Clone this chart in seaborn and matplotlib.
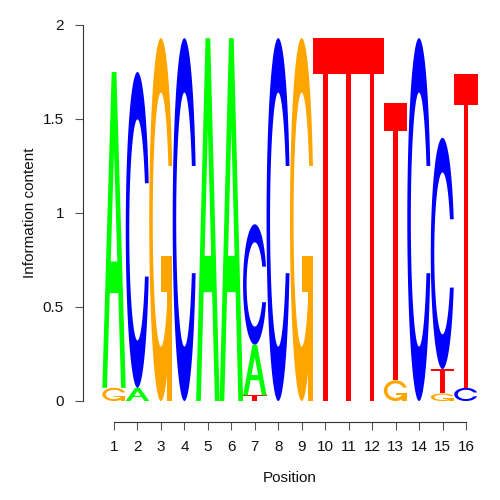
import matplotlib
matplotlib.use("Agg")
import matplotlib.pyplot as plt
import seaborn as sns
import numpy as np
import pandas as pd
from matplotlib.patches import Polygon

# ---- data (information content per letter, per position) ----
positions = list(range(1, 17))
A_vals = [1.68, 0.07, 0.00, 0.00, 1.93, 1.93, 0.27, 0.00, 0.00, 0.00, 0.00, 0.00, 0.00, 0.00, 0.00, 0.00]
C_vals = [0.00, 1.68, 0.00, 1.93, 0.00, 0.00, 0.64, 1.93, 0.00, 0.00, 0.00, 0.00, 0.00, 1.93, 1.23, 0.07]
G_vals = [0.07, 0.00, 1.93, 0.00, 0.00, 0.00, 0.00, 0.00, 1.93, 0.00, 0.00, 0.00, 0.11, 0.00, 0.04, 0.00]
T_vals = [0.00, 0.00, 0.00, 0.00, 0.00, 0.00, 0.03, 0.00, 0.00, 1.93, 1.93, 1.93, 1.475, 0.00, 0.13, 1.67]
y_ticks = [0, 0.5, 1, 1.5, 2]
y_tick_labels = ["0", "0.5", "1", "1.5", "2"]

letter_colors = {"A": "#00FF00", "C": "#0000FF", "G": "#FFA500", "T": "#FF0000"}

df = pd.DataFrame({"Position": positions, "A": A_vals, "C": C_vals, "G": G_vals, "T": T_vals})
long = df.melt(id_vars="Position", var_name="Letter", value_name="IC")


# ---- letter shapes (unit square, seqLogo-style polygons) ----
def _c_outline():
    a1 = np.linspace(0.3 + np.pi / 2, np.pi, 100)
    a2 = np.linspace(np.pi, 1.5 * np.pi, 100)
    xl = np.concatenate([0.5 + 0.5 * np.sin(a1), 0.5 + 0.5 * np.sin(a2)])
    yl1 = 0.5 + 0.5 * np.cos(a1)
    yl = np.concatenate([yl1, 0.5 + 0.5 * np.cos(a2)])
    x = np.concatenate([xl, xl[::-1]])
    y = np.concatenate([yl, 1 - yl[::-1]])
    xi1 = 0.5 + 0.35 * np.sin(a1)
    yi1 = 0.5 + 0.35 * np.cos(a1)
    keep = yi1 <= yl1.max()
    xi1, yi1 = xi1[keep], yi1[keep].copy()
    yi1[0] = yl1.max()
    xi = np.concatenate([xi1, 0.5 + 0.35 * np.sin(a2)])
    yi = np.concatenate([yi1, 0.5 + 0.35 * np.cos(a2)])
    x1 = np.concatenate([xi, xi[::-1]])
    y1 = np.concatenate([yi, 1 - yi[::-1]])
    x = np.concatenate([x, x1[::-1]])
    y = np.concatenate([y, y1[::-1]])
    return x, y, (0.5 + 0.5 * np.sin(a1)).max()


def letter_polys(L):
    """Return list of (xs, ys, fill) in unit coords."""
    if L == "A":
        xo = np.array([0, 4, 6, 10, 8, 6.8, 3.2, 2, 0]) * 0.1
        yo = np.array([0, 10, 10, 0, 0, 3, 3, 0, 0]) * 0.1
        xi = np.array([3.6, 5, 6.4, 3.6]) * 0.1
        yi = np.array([4, 7.5, 4, 4]) * 0.1
        return [(xo, yo, letter_colors["A"]), (xi, yi, "white")]
    if L == "T":
        x = np.array([0, 10, 10, 6, 6, 4, 4, 0]) * 0.1
        y = np.array([10, 10, 9, 9, 0, 0, 9, 9]) * 0.1
        return [(x, y, letter_colors["T"])]
    x, y, r1 = _c_outline()
    if L == "C":
        return [(x, y, letter_colors["C"])]
    h1 = 0.4
    xa = np.array([r1, 0.5, 0.5, r1 - 0.2, r1 - 0.2, r1, r1])
    ya = np.array([h1, h1, h1 - 0.1, h1 - 0.1, 0, 0, h1])
    return [(x, y, letter_colors["G"]), (xa, ya, letter_colors["G"])]


sns.set_theme(style="white")
plt.rcParams["font.family"] = ["Liberation Sans", "DejaVu Sans"]

fig = plt.figure(figsize=(5, 5), dpi=100)
ax = fig.add_axes([102.3 / 500, 99 / 500, 375.4 / 500, 376 / 500])
ax.set_xlim(0.5, 16.5)
ax.set_ylim(0, 2)

width = 1.0
for pos, grp in long.groupby("Position"):
    grp = grp[grp["IC"] > 0].sort_values("IC")
    bottom = 0.0
    for _, row in grp.iterrows():
        L = row["Letter"]
        h = row["IC"]
        for xs, ys, fill in letter_polys(L):
            pts = np.column_stack([pos - width / 2 + width * xs, bottom + h * ys])
            ax.add_patch(Polygon(pts, closed=True, facecolor=fill,
                                 edgecolor="none", lw=0, antialiased=True))
        bottom += h

# axes styling (R-like detached axes)
for s in ["top", "right"]:
    ax.spines[s].set_visible(False)
ax.spines["left"].set_position(("outward", 19.3 * 0.72))
ax.spines["bottom"].set_position(("outward", 21 * 0.72))
ax.spines["left"].set_bounds(0, 2)
ax.spines["bottom"].set_bounds(1, 16)
for s in ["left", "bottom"]:
    ax.spines[s].set_color("#333333")
    ax.spines[s].set_linewidth(0.8)

ax.set_xticks(positions)
ax.set_xticklabels([str(p) for p in positions])
ax.set_yticks(y_ticks)
ax.set_yticklabels(y_tick_labels)
ax.tick_params(axis="both", which="both", direction="out", length=5.8, width=0.8,
               color="#555555", labelsize=11, labelcolor="#111111")
ax.tick_params(axis="y", pad=7.9, left=True)
ax.tick_params(axis="x", pad=7.2, bottom=True)

ax.set_xlabel("Position", fontsize=11, color="#111111")
ax.set_ylabel("Information content", fontsize=11, color="#111111")
ax.xaxis.set_label_coords(0.5, (401 - 471) / 376)
ax.yaxis.set_label_coords((37 - 102.3) / 375.4, 0.5)
ax.grid(False)

fig.savefig("out.png", dpi=100)
